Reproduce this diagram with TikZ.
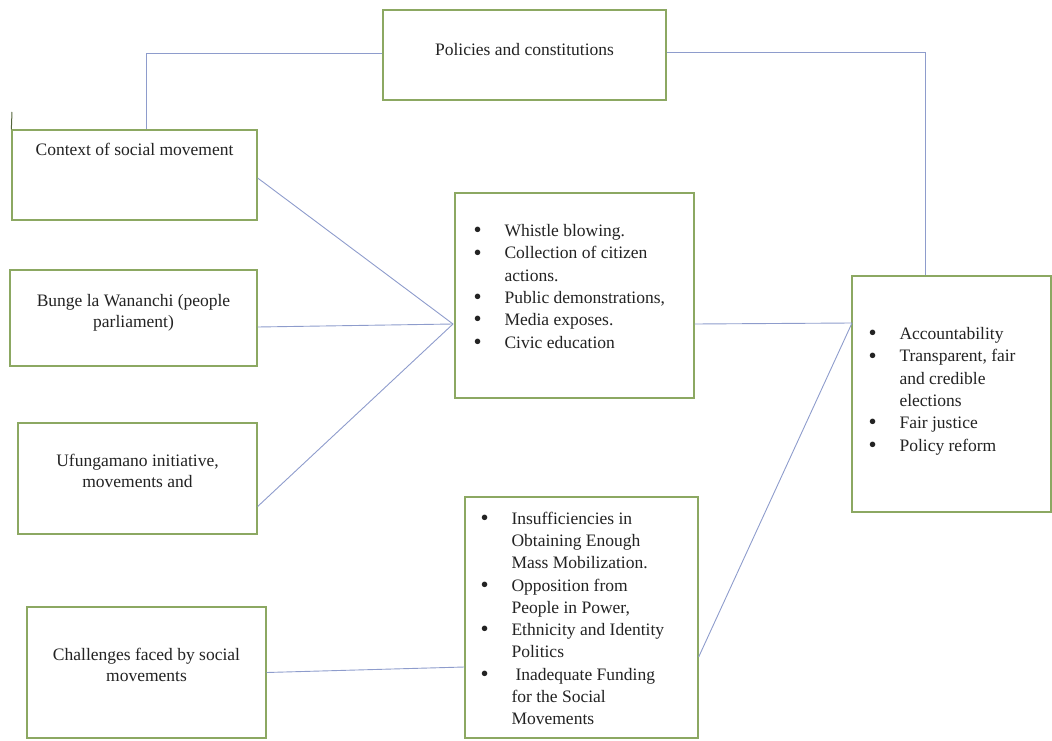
\documentclass[tikz,border=0pt]{standalone}
\usepackage{fontspec}
\setmainfont{Liberation Serif}
\usepackage{xcolor}
\usepackage{tikz}
\definecolor{corverde}{RGB}{140,168,98}
\definecolor{corlinha}{RGB}{142,156,204}
\definecolor{cortexto}{RGB}{35,35,35}
\newcommand{\marca}{\raisebox{-1.2pt}{\fontsize{23}{22}\selectfont\textbullet}}

\begin{document}
\begin{tikzpicture}[
  x=1pt, y=-1pt,
  caixa/.style={rectangle, draw=corverde, line width=1.3pt, fill=white,
                inner sep=0pt},
  rotulo/.style={align=center, inner sep=0pt, text=cortexto,
                 font=\fontsize{17.5}{21}\selectfont},
  lista/.style={anchor=north west, inner sep=0pt, text=cortexto,
                font=\fontsize{17.5}{22.3}\selectfont},
  liga/.style={draw=corlinha, line width=0.9pt}
]
  \useasboundingbox (0,0) rectangle (1052,741);

  % caixas
  \node[caixa, minimum width=283pt, minimum height=90pt] (pol) at (524.5,55) {};
  \node[caixa, minimum width=245pt, minimum height=90pt] (ctx) at (134.5,175) {};
  \node[caixa, minimum width=247pt, minimum height=96pt] (bng) at (133.5,318) {};
  \node[caixa, minimum width=239pt, minimum height=111pt] (ufu) at (137.5,478.5) {};
  \node[caixa, minimum width=239pt, minimum height=131pt] (cha) at (146.5,672.5) {};
  \node[caixa, minimum width=239pt, minimum height=205pt] (acao) at (574.5,295.5) {};
  \node[caixa, minimum width=233pt, minimum height=241pt] (insu) at (581.5,617.5) {};
  \node[caixa, minimum width=199pt, minimum height=236pt] (res) at (951.5,394) {};

  % textos
  \node[rotulo] (poltxt) at ([yshift=-40pt]pol.north) {Policies and constitutions};
  \node[rotulo] (ctxtxt) at ([yshift=-20pt]ctx.north) {Context of social movement};
  \node[rotulo] (bngtxt) at ([yshift=-43pt]bng.north) {Bunge la Wananchi (people\\ parliament)};
  \node[rotulo] (ufutxt) at ([yshift=-49pt]ufu.north) {Ufungamano initiative,\\ movements and};
  \node[rotulo] (chatxt) at ([yshift=-59pt]cha.north) {Challenges faced by social\\ movements};

  \node[lista] (acaotxt) at ([shift={(19pt,-28.4pt)}]acao.north west) {%
    \begin{tabular}{@{}p{31pt}@{}l@{}}
      \marca & Whistle blowing.\\
      \marca & Collection of citizen\\
             & actions.\\
      \marca & Public demonstrations,\\
      \marca & Media exposes.\\
      \marca & Civic education
    \end{tabular}};
  \node[lista] (insutxt) at ([shift={(16pt,-12pt)}]insu.north west) {%
    \begin{tabular}{@{}p{31pt}@{}l@{}}
      \marca & Insufficiencies in\\
             & Obtaining Enough\\
             & Mass Mobilization.\\
      \marca & Opposition from\\
             & People in Power,\\
      \marca & Ethnicity and Identity\\
             & Politics\\
      \marca & \hspace{4pt}Inadequate Funding\\
             & for the Social\\
             & Movements
    \end{tabular}};
  \node[lista] (restxt) at ([shift={(17pt,-48.4pt)}]res.north west) {%
    \begin{tabular}{@{}p{31pt}@{}l@{}}
      \marca & Accountability\\
      \marca & Transparent, fair\\
             & and credible\\
             & elections\\
      \marca & Fair justice\\
      \marca & Policy reform
    \end{tabular}};

  % pontos de encontro
  \coordinate (junta) at (453,324);
  \coordinate (chega) at (852,323);
  \coordinate (risco) at (12,112);

  % ligacoes
  \draw[liga] ([yshift=2pt]pol.west) -| ([xshift=11.5pt]ctx.north);
  \draw[liga] ([yshift=3pt]pol.east) -| ([xshift=-26.5pt]res.north);
  \draw[liga] ([yshift=-3pt]ctx.east) -- (junta);
  \draw[liga] ([yshift=-9pt]bng.east) -- (junta);
  \draw[liga] ([yshift=-28pt]ufu.east) -- (junta);
  \draw[liga] ([yshift=-28.5pt]acao.east) -- (chega);
  \draw[liga] (cha.east) -- ([yshift=-49.5pt]insu.west);
  \draw[liga] ([yshift=-39.5pt]insu.east) -- (chega);
  \draw[draw=corverde!60!black, line width=1pt] (ctx.north west) -- (risco);
\end{tikzpicture}
\end{document}
